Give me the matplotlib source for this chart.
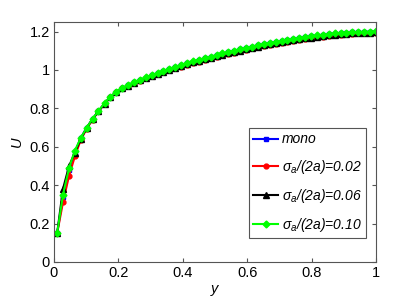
import matplotlib
matplotlib.use("Agg")
import matplotlib.pyplot as plt

plt.rcParams['font.family'] = ['Liberation Sans', 'DejaVu Sans']
plt.rcParams['mathtext.fontset'] = 'custom'
plt.rcParams['mathtext.rm'] = 'Liberation Sans'
plt.rcParams['mathtext.it'] = 'Liberation Sans:italic'

# wall distance (same grid for all cases)
y = [0.010, 0.028, 0.047, 0.065, 0.083, 0.102, 0.120, 0.138, 0.157, 0.175,
     0.193, 0.212, 0.230, 0.248, 0.267, 0.285, 0.303, 0.322, 0.340, 0.358,
     0.377, 0.395, 0.413, 0.432, 0.450, 0.468, 0.487, 0.505, 0.523, 0.542,
     0.560, 0.578, 0.597, 0.615, 0.633, 0.652, 0.670, 0.688, 0.707, 0.725,
     0.743, 0.762, 0.780, 0.798, 0.817, 0.835, 0.853, 0.872, 0.890, 0.908,
     0.927, 0.945, 0.963, 0.982, 1.000]

u_mono = [0.15, 0.34, 0.48, 0.57, 0.645, 0.70, 0.745, 0.785, 0.825, 0.86,
          0.885, 0.905, 0.92, 0.935, 0.948, 0.96, 0.972, 0.983, 0.994, 1.005,
          1.015, 1.025, 1.035, 1.044, 1.052, 1.06, 1.068, 1.077, 1.085, 1.093,
          1.10, 1.107, 1.114, 1.121, 1.128, 1.134, 1.14, 1.146, 1.151, 1.156,
          1.161, 1.166, 1.171, 1.175, 1.179, 1.183, 1.186, 1.189, 1.192, 1.194,
          1.196, 1.197, 1.198, 1.199, 1.20]

u_002 = [0.15, 0.31, 0.45, 0.55, 0.635, 0.695, 0.742, 0.784, 0.824, 0.858,
         0.884, 0.904, 0.919, 0.933, 0.945, 0.956, 0.967, 0.977, 0.988, 0.998,
         1.008, 1.017, 1.027, 1.036, 1.044, 1.052, 1.060, 1.068, 1.076, 1.084,
         1.091, 1.098, 1.105, 1.112, 1.119, 1.125, 1.131, 1.137, 1.142, 1.147,
         1.152, 1.157, 1.162, 1.166, 1.170, 1.174, 1.177, 1.180, 1.183, 1.186,
         1.188, 1.190, 1.191, 1.192, 1.193]

u_006 = [0.15, 0.38, 0.50, 0.57, 0.64, 0.70, 0.744, 0.784, 0.824, 0.859,
         0.884, 0.904, 0.919, 0.934, 0.946, 0.958, 0.969, 0.980, 0.990, 1.001,
         1.011, 1.020, 1.030, 1.039, 1.047, 1.055, 1.063, 1.071, 1.079, 1.087,
         1.094, 1.101, 1.108, 1.115, 1.122, 1.128, 1.134, 1.140, 1.145, 1.150,
         1.155, 1.160, 1.165, 1.169, 1.173, 1.177, 1.180, 1.183, 1.186, 1.189,
         1.191, 1.193, 1.194, 1.195, 1.196]

u_010 = [0.15, 0.35, 0.49, 0.58, 0.645, 0.70, 0.746, 0.786, 0.826, 0.86,
         0.886, 0.906, 0.921, 0.936, 0.949, 0.961, 0.973, 0.984, 0.995, 1.006,
         1.016, 1.026, 1.036, 1.045, 1.053, 1.061, 1.069, 1.078, 1.086, 1.094,
         1.101, 1.108, 1.115, 1.122, 1.129, 1.135, 1.141, 1.147, 1.152, 1.157,
         1.162, 1.167, 1.172, 1.176, 1.180, 1.184, 1.187, 1.190, 1.193, 1.195,
         1.197, 1.198, 1.199, 1.200, 1.201]

labels = ['mono',
          'σ$_a$/(2a)=0.02',
          'σ$_a$/(2a)=0.06',
          'σ$_a$/(2a)=0.10']

fig = plt.figure(figsize=(4.15, 2.97), dpi=100)
ax = fig.add_axes([0.130, 0.118, 0.776, 0.808])

ax.plot(y, u_mono, '-s', color='#0000ff', lw=1.5, ms=3, label=labels[0])
ax.plot(y, u_002, '-o', color='#ff0000', lw=1.5, ms=3.5, label=labels[1])
ax.plot(y, u_006, '-^', color='#000000', lw=1.5, ms=4, label=labels[2])
ax.plot(y, u_010, '-D', color='#00ff00', lw=1.5, ms=3.5, label=labels[3])

ax.set_xlim(0, 1)
ax.set_ylim(0, 1.25)
ax.set_xticks([0, 0.2, 0.4, 0.6, 0.8, 1])
ax.set_xticklabels(['0', '0.2', '0.4', '0.6', '0.8', '1'])
ax.set_yticks([0, 0.2, 0.4, 0.6, 0.8, 1, 1.2])
ax.set_yticklabels(['0', '0.2', '0.4', '0.6', '0.8', '1', '1.2'])
ax.tick_params(direction='in', top=True, right=True, labelsize=10.5,
               length=3, color='#555555', pad=3)
for s in ax.spines.values():
    s.set_color('#555555')
    s.set_linewidth(0.8)

ax.set_xlabel('y', fontstyle='italic', fontsize=10.5, labelpad=1)
ax.set_ylabel('U', fontstyle='italic', fontsize=10.5, labelpad=4)

leg = ax.legend(loc='lower right', bbox_to_anchor=(0.97, 0.1),
                prop={'family': ['Liberation Sans', 'DejaVu Sans'],
                      'style': 'italic', 'size': 10},
                fancybox=False, edgecolor='#555555', framealpha=1,
                handlelength=1.8, handletextpad=0.3, borderpad=0.3,
                labelspacing=0.8, borderaxespad=0)
leg.get_frame().set_linewidth(0.8)

fig.savefig('out.png', dpi=100)
